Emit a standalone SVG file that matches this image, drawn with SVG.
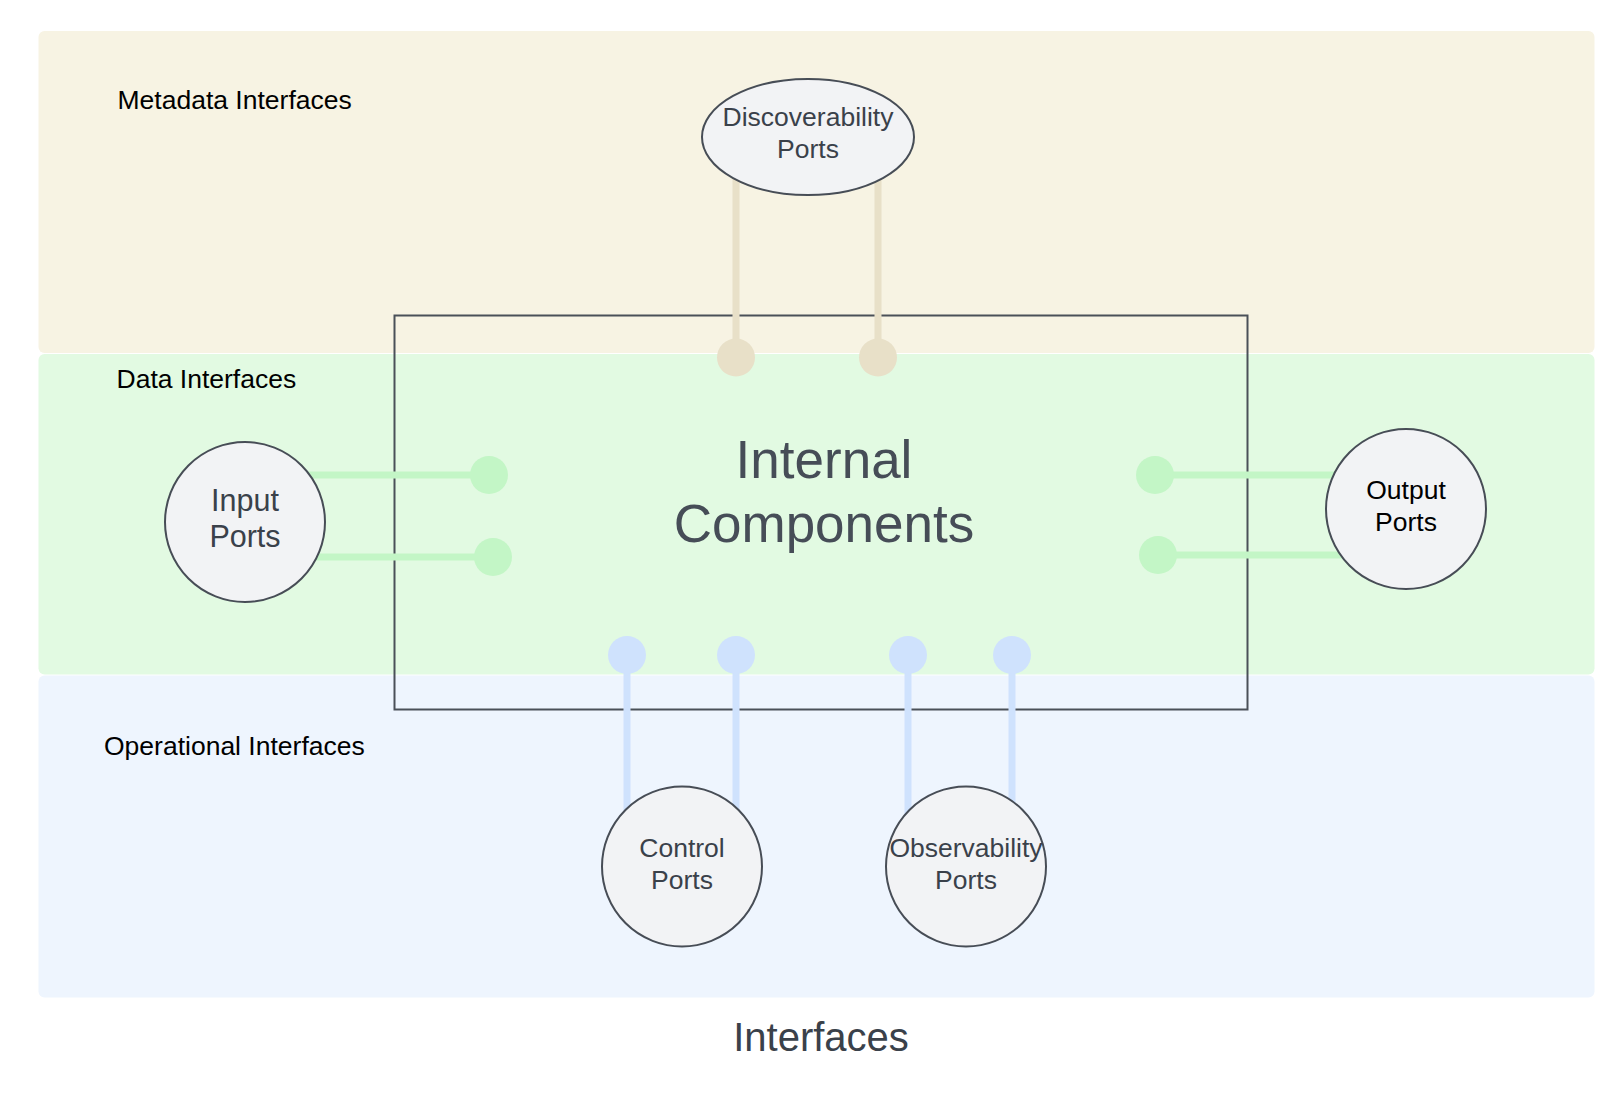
<svg xmlns="http://www.w3.org/2000/svg" width="1624" height="1094" viewBox="0 0 1624 1094">
  <style>
    .band-label { font-family: "Liberation Sans", Arial, sans-serif; font-size: 26.5px; fill: #000000; }
    .node { fill: #f2f3f5; stroke: #474d56; stroke-width: 2; }
    .ntext { font-family: "Liberation Sans", Arial, sans-serif; font-size: 26.5px; fill: #3a414a; text-anchor: middle; }
    .tan { stroke: #e8e0c8; stroke-width: 7; fill: none; }
    .green { stroke: #c3f6c6; stroke-width: 7; fill: none; }
    .blue { stroke: #cfe2fd; stroke-width: 7; fill: none; }
    .dot-tan { fill: #e8e0c8; }
    .dot-green { fill: #c3f6c6; }
    .dot-blue { fill: #cfe2fd; }
  </style>
  <rect x="0" y="0" width="1624" height="1094" fill="#ffffff"/>
  <g id="bands">
    <rect id="band-metadata" x="38.5" y="31" width="1556" height="322" rx="6" fill="#f7f3e3"/>
    <rect id="band-data" x="38.5" y="354" width="1556" height="320.5" rx="6" fill="#e2fae2"/>
    <rect id="band-operational" x="38.5" y="675.5" width="1556" height="322" rx="6" fill="#eef5fe"/>
    <text class="band-label" x="117.5" y="108.5">Metadata Interfaces</text>
    <text class="band-label" x="116.5" y="388">Data Interfaces</text>
    <text class="band-label" x="104" y="754.5">Operational Interfaces</text>
  </g>
  <g id="internal-components">
    <rect x="394.5" y="315.5" width="853" height="394" fill="none" stroke="#4a5058" stroke-width="2"/>
    <text x="824" y="477.5" font-family="'Liberation Sans', Arial, sans-serif" font-size="53" fill="#464d57" text-anchor="middle">Internal</text>
    <text x="824" y="541.5" font-family="'Liberation Sans', Arial, sans-serif" font-size="53" fill="#464d57" text-anchor="middle">Components</text>
  </g>
  <g id="connectors">
    <line class="tan" x1="736" y1="150" x2="736" y2="357.5"/>
    <line class="tan" x1="878" y1="150" x2="878" y2="357.5"/>
    <circle class="dot-tan" cx="736" cy="357.5" r="19"/>
    <circle class="dot-tan" cx="878" cy="357.5" r="19"/>
    <line class="green" x1="260" y1="475" x2="489" y2="475"/>
    <line class="green" x1="260" y1="557" x2="493" y2="557"/>
    <circle class="dot-green" cx="489" cy="475" r="19"/>
    <circle class="dot-green" cx="493" cy="557" r="19"/>
    <line class="green" x1="1155" y1="475" x2="1390" y2="475"/>
    <line class="green" x1="1158" y1="555" x2="1390" y2="555"/>
    <circle class="dot-green" cx="1155" cy="475" r="19"/>
    <circle class="dot-green" cx="1158" cy="555" r="19"/>
    <line class="blue" x1="627" y1="655" x2="627" y2="850"/>
    <line class="blue" x1="736" y1="655" x2="736" y2="850"/>
    <line class="blue" x1="908" y1="655" x2="908" y2="850"/>
    <line class="blue" x1="1012" y1="655" x2="1012" y2="850"/>
    <circle class="dot-blue" cx="627" cy="655" r="19"/>
    <circle class="dot-blue" cx="736" cy="655" r="19"/>
    <circle class="dot-blue" cx="908" cy="655" r="19"/>
    <circle class="dot-blue" cx="1012" cy="655" r="19"/>
  </g>
  <g id="discoverability-ports">
    <ellipse class="node" cx="808" cy="137" rx="106" ry="58"/>
    <text class="ntext" x="808" y="125.5">Discoverability</text>
    <text class="ntext" x="808" y="157.5">Ports</text>
  </g>
  <g id="input-ports">
    <circle class="node" cx="245" cy="522" r="80"/>
    <text class="ntext" x="245" y="510.5" style="font-size:30.5px">Input</text>
    <text class="ntext" x="245" y="547" style="font-size:30.5px">Ports</text>
  </g>
  <g id="output-ports">
    <circle class="node" cx="1406" cy="509" r="80"/>
    <text class="ntext" x="1406" y="499" style="fill:#000000">Output</text>
    <text class="ntext" x="1406" y="530.5" style="fill:#000000">Ports</text>
  </g>
  <g id="control-ports">
    <circle class="node" cx="682" cy="866.5" r="80"/>
    <text class="ntext" x="682" y="856.5">Control</text>
    <text class="ntext" x="682" y="888.5">Ports</text>
  </g>
  <g id="observability-ports">
    <circle class="node" cx="966" cy="866.5" r="80"/>
    <text class="ntext" x="966" y="856.5">Observability</text>
    <text class="ntext" x="966" y="888.5">Ports</text>
  </g>
  <g id="title">
    <text x="821" y="1051" font-family="'Liberation Sans', Arial, sans-serif" font-size="40" fill="#3a414a" text-anchor="middle">Interfaces</text>
  </g>
</svg>
